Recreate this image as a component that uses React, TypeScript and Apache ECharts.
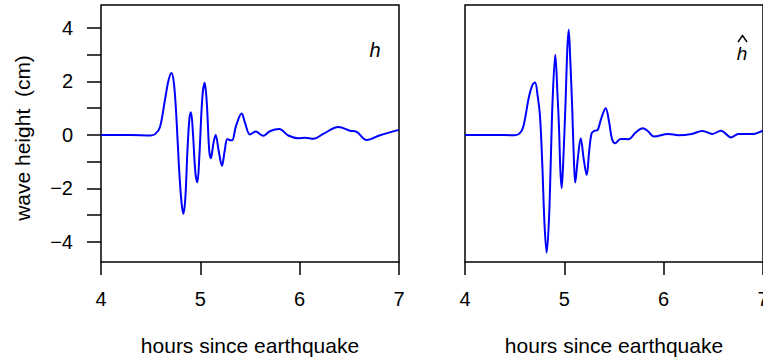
import React, { useEffect, useRef } from 'react';
import * as echarts from 'echarts';

const xTicks = [4, 5, 6, 7];
const yTickValues = [-4, -3, -2, -1, 0, 1, 2, 3, 4];
const yLabelValues = [-4, -2, 0, 2, 4];

const hTimes = [4.0, 4.3, 4.5, 4.55, 4.594, 4.644, 4.68, 4.71, 4.735, 4.76, 4.785, 4.81, 4.83, 4.85, 4.87, 4.89, 4.906, 4.925, 4.95, 4.97, 4.99, 5.02, 5.044, 5.065, 5.09, 5.107, 5.13, 5.154, 5.185, 5.218, 5.245, 5.272, 5.3, 5.32, 5.36, 5.416, 5.45, 5.5, 5.557, 5.634, 5.7, 5.795, 5.886, 5.987, 6.054, 6.138, 6.238, 6.39, 6.506, 6.574, 6.674, 6.81, 7.0];
const hValues = [0, 0, -0.02, 0.05, 0.3, 1.31, 2.05, 2.32, 1.9, 0.6, -1.2, -2.5, -2.95, -2.3, -0.6, 0.6, 0.85, 0.1, -1.4, -1.77, -0.8, 1.4, 1.95, 1.2, -0.6, -0.87, -0.35, 0.0, -0.6, -1.15, -0.6, -0.15, -0.2, -0.2, 0.35, 0.8, 0.45, 0.02, 0.13, -0.03, 0.14, 0.22, -0.02, -0.12, -0.1, -0.14, 0.04, 0.3, 0.16, 0.12, -0.19, -0.01, 0.19];

const hatTimes = [4.0, 4.3, 4.5, 4.55, 4.587, 4.644, 4.68, 4.705, 4.73, 4.755, 4.779, 4.8, 4.822, 4.845, 4.862, 4.882, 4.909, 4.93, 4.946, 4.96, 4.973, 4.99, 5.013, 5.03, 5.044, 5.06, 5.08, 5.095, 5.11, 5.135, 5.165, 5.195, 5.225, 5.25, 5.275, 5.302, 5.336, 5.37, 5.416, 5.45, 5.48, 5.51, 5.567, 5.644, 5.72, 5.789, 5.84, 5.903, 6.047, 6.148, 6.282, 6.389, 6.49, 6.577, 6.678, 6.752, 6.9, 7.0];
const hatValues = [0, 0, -0.01, 0.06, 0.31, 1.43, 1.88, 1.96, 1.5, 0.69, -1.18, -3.3, -4.4, -3.2, -1.18, 1.31, 3.0, 1.6, 0.31, -1.3, -1.99, -0.9, 1.31, 3.2, 3.93, 2.8, 0.93, -0.8, -1.78, -0.9, -0.12, -0.9, -1.5, -0.6, 0.06, 0.15, 0.19, 0.6, 1.0, 0.5, -0.15, -0.31, -0.15, -0.16, 0.1, 0.25, 0.15, -0.06, 0.04, -0.01, 0.04, 0.15, 0.04, 0.16, -0.09, 0.04, 0.04, 0.16];

const yTitle = 'wave height  (cm)';
const xTitle = 'hours since earthquake';

export default function App() {
  const ref = useRef<HTMLDivElement>(null);
  useEffect(() => {
    const chart = echarts.init(ref.current!, null, { renderer: 'svg' });
    const font = "'Liberation Sans', Arial, Helvetica, sans-serif";
    const fmt = (v: number) => (v < 0 ? '\u2212' + Math.abs(v) : String(v));
    const yMin = -4.75;
    const yMax = 4.86;
    const gridBase = {
      top: 5,
      height: 257,
      width: 298,
      show: true,
      borderColor: '#000',
      borderWidth: 1.5,
      backgroundColor: 'transparent',
      containLabel: false,
      outerBoundsMode: 'none',
    };
    const xAxisBase = (gi: number) => ({
      type: 'value',
      gridIndex: gi,
      position: 'bottom',
      min: 4,
      max: 7,
      interval: 1,
      axisLine: { show: false, onZero: false },
      axisTick: { show: true, inside: false, length: 13, lineStyle: { color: '#000', width: 1.5 }, customValues: xTicks },
      axisLabel: { show: true, margin: 27, color: '#000', fontSize: 20, fontFamily: font, customValues: xTicks, formatter: (v: number) => fmt(v), hideOverlap: false },
      splitLine: { show: false },
    });
    const series = (gi: number, xs: number[], ys: number[]) => ({
      type: 'line',
      xAxisIndex: gi,
      yAxisIndex: gi,
      data: xs.map((x, i) => [x, ys[i]]),
      showSymbol: false,
      symbol: 'none',
      smooth: 0.35,
      lineStyle: { color: '#0000ff', width: 2 },
      clip: true,
    });
    chart.setOption({
      animation: false,
      backgroundColor: '#fff',
      grid: [
        { ...gridBase, left: 101 },
        { ...gridBase, left: 465 },
      ],
      xAxis: [xAxisBase(0), xAxisBase(1)],
      yAxis: [
        {
          type: 'value',
          gridIndex: 0,
          position: 'left',
          min: yMin,
          max: yMax,
          axisLine: { show: false, onZero: false },
          axisTick: { show: true, inside: false, length: 14, lineStyle: { color: '#000', width: 1.5 }, customValues: yTickValues },
          axisLabel: { show: true, margin: 28, color: '#000', fontSize: 20, fontFamily: font, customValues: yLabelValues, formatter: (v: number) => fmt(v) },
          splitLine: { show: false },
        },
        {
          type: 'value',
          gridIndex: 1,
          position: 'left',
          min: yMin,
          max: yMax,
          axisLine: { show: false, onZero: false },
          axisTick: { show: false },
          axisLabel: { show: false },
          splitLine: { show: false },
        },
      ],
      series: [series(0, hTimes, hValues), series(1, hatTimes, hatValues)],
      graphic: [
        { type: 'text', x: 22, y: 138, rotation: Math.PI / 2, style: { text: yTitle, fontSize: 21, fontFamily: font, fill: '#000', align: 'center', verticalAlign: 'middle' } },
        { type: 'text', x: 250, y: 345, style: { text: xTitle, fontSize: 21, fontFamily: font, fill: '#000', align: 'center', verticalAlign: 'middle' } },
        { type: 'text', x: 614, y: 345, style: { text: xTitle, fontSize: 21, fontFamily: font, fill: '#000', align: 'center', verticalAlign: 'middle' } },
        { type: 'text', x: 375, y: 50, style: { text: 'h', fontSize: 20, fontStyle: 'italic', fontFamily: font, fill: '#000', align: 'center', verticalAlign: 'middle' } },
        { type: 'text', x: 742, y: 53, style: { text: 'h', fontSize: 19, fontStyle: 'italic', fontFamily: font, fill: '#000', align: 'center', verticalAlign: 'middle' } },
        { type: 'polyline', shape: { points: [[738, 42], [742.5, 35.5], [747, 42]] }, style: { stroke: '#000', lineWidth: 1.4, fill: 'none' } },
      ],
    });
    return () => chart.dispose();
  }, []);
  return <div ref={ref} style={{ position: 'fixed', left: 0, top: 0, width: 763, height: 363 }} />;
}
